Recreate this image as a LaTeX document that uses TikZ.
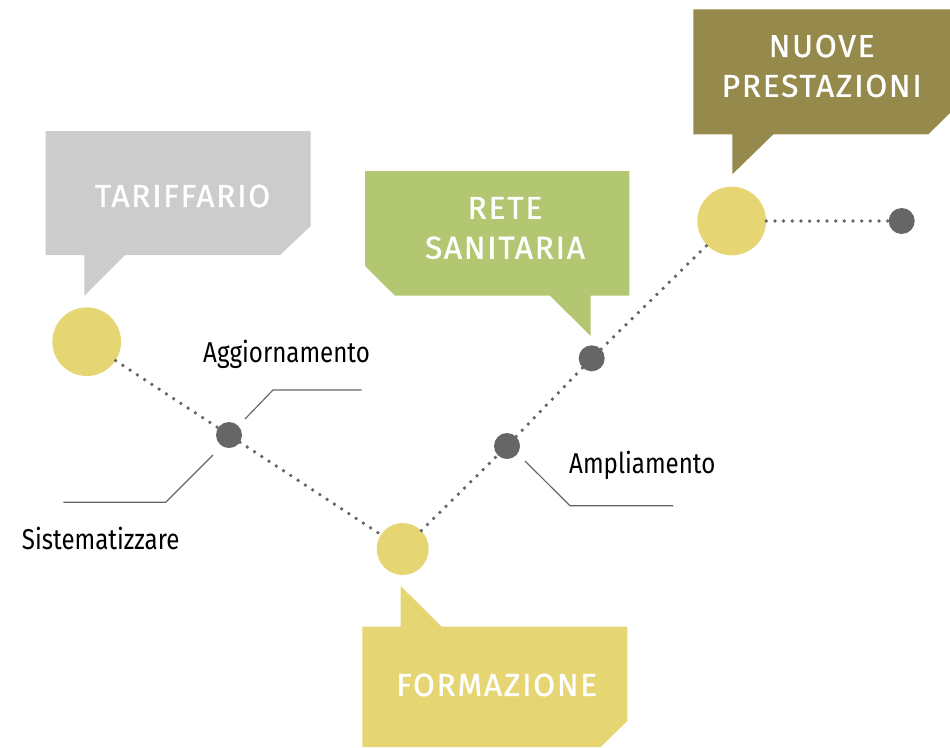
\documentclass[tikz,border=0pt]{standalone}
\usepackage{fontspec}
\setmainfont{Fira Sans}
\newfontfamily\narrowfont[FakeStretch=0.84]{Fira Sans}
\newfontfamily\widefont[LetterSpace=5.6,FakeBold=1]{Fira Sans}
\usetikzlibrary{positioning,calc}
\definecolor{grigio}{HTML}{CCCCCC}
\definecolor{verde}{HTML}{B3C671}
\definecolor{oliva}{HTML}{958A4B}
\definecolor{giallo}{HTML}{E5D673}
\definecolor{punto}{HTML}{666666}
\begin{document}
\begin{tikzpicture}[x=.03cm,y=-.03cm,
 tappa/.style={circle,fill=giallo,inner sep=0pt,minimum size=2.06cm},
 nodo/.style={circle,fill=punto,inner sep=0pt,minimum size=.78cm},
 puntini/.style={punto,line width=3.2pt,line cap=round,dash pattern=on 0pt off 7.4pt},
 guida/.style={punto,line width=1pt},
 titolo/.style={text=white,align=center,inner sep=0pt,font=\widefont\fontsize{27}{34}\selectfont},
 voce/.style={inner sep=0pt,anchor=base west,font=\narrowfont\fontsize{24.5}{28}\selectfont}]
\useasboundingbox (0,0) rectangle (950,747);
\fill[grigio] (45.7,131)--(310.7,131)--(310.7,226)--(280,255)--(125,255)--(84.3,295.7)--(84.3,255)--(45.7,255)--cycle;
\fill[verde] (365,171)--(629.3,171)--(629.3,295.7)--(590.7,295.7)--(590.7,336)--(550,295.7)--(395,295.7)--(365,266)--cycle;
\fill[oliva] (693.3,9.3)--(950,9.3)--(950,113)--(928.3,134.3)--(773.3,134.3)--(732.3,174.3)--(732.3,134.3)--(693.3,134.3)--cycle;
\fill[giallo] (362.3,626.7)--(400.7,626.7)--(400.7,586)--(441.7,626.7)--(627.3,626.7)--(627.3,721)--(600.7,747)--(362.3,747)--cycle;
\node[titolo] (tartxt) at (182.5,196) {TARIFFARIO};
\node[titolo] (rettxt) at (505,228) {RETE\\SANITARIA};
\node[titolo] (nuotxt) at (821.7,66) {NUOVE\\PRESTAZIONI};
\node[titolo] (fortxt) at (496.7,685) {FORMAZIONE};
\node[tappa] (tar) at (86.7,341.7) {};
\node[tappa,minimum size=1.56cm] (for) at (402.7,549) {};
\node[tappa] (nuo) at (731.7,221) {};
\node[nodo] (agg) at (229,435) {};
\node[nodo] (amp) at (507,446) {};
\node[nodo] (ret) at (591.7,358.3) {};
\node[nodo] (fine) at (901.7,221) {};
\foreach \a/\b in {tar/agg,agg/for,for/amp,amp/ret,ret/nuo,nuo/fine}
 \draw[puntini] (\a)--(\b);
\coordinate (g1) at (361.7,390);
\coordinate (g2) at (63.3,502.3);
\coordinate (g3) at (673.3,505.7);
\draw[guida] (g1)--(273,390)--($(agg)+(16,-16)$);
\draw[guida] (g2)--(165.7,502.3)--($(agg)+(-16,20)$);
\draw[guida] (g3)--(570,505.7)--($(amp)+(18,15)$);
\node[voce] (aggtxt) at (203,362.3) {Aggiornamento};
\node[voce] (sistxt) at (21.7,549) {Sistematizzare};
\node[voce] (amptxt) at (569,473.3) {Ampliamento};
\end{tikzpicture}
\end{document}
